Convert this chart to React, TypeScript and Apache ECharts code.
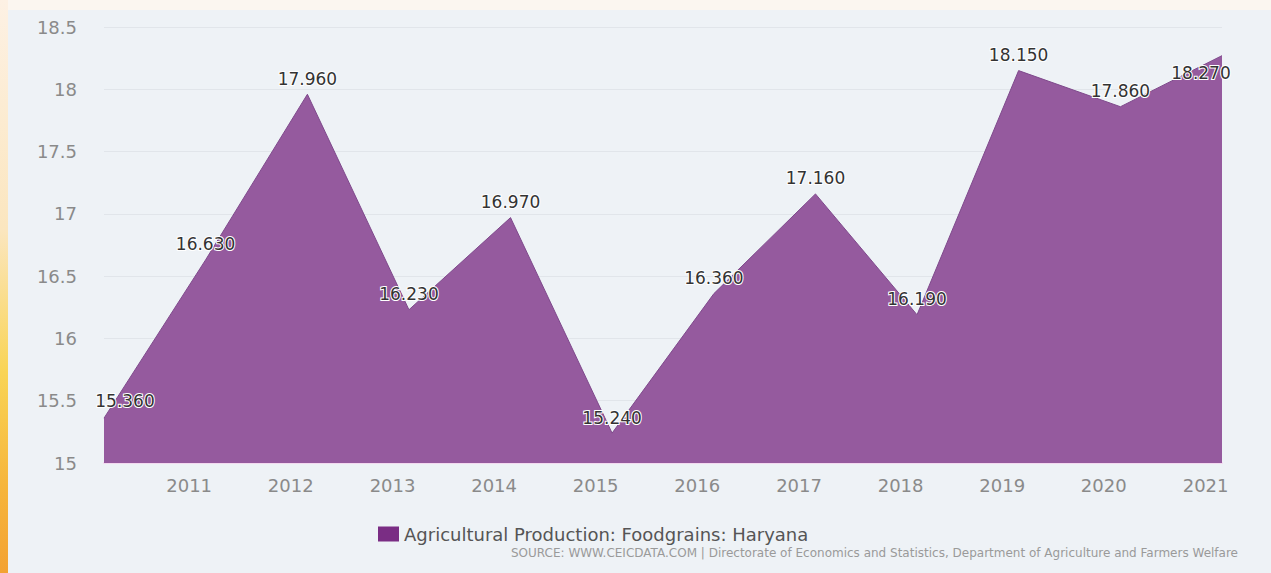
import React, { useEffect, useRef } from "react";
import * as echarts from "echarts";

const dates = [
  "2010-03-01", "2011-03-01", "2012-03-01", "2013-03-01", "2014-03-01", "2015-03-01",
  "2016-03-01", "2017-03-01", "2018-03-01", "2019-03-01", "2020-03-01", "2021-03-01",
];
const values = [15.36, 16.63, 17.96, 16.23, 16.97, 15.24, 16.36, 17.16, 16.19, 18.15, 17.86, 18.27];
const yearTicks = [2011, 2012, 2013, 2014, 2015, 2016, 2017, 2018, 2019, 2020, 2021];
const seriesName = "Agricultural Production: Foodgrains: Haryana";
const sourceText =
  "SOURCE: WWW.CEICDATA.COM | Directorate of Economics and Statistics, Department of Agriculture and Farmers Welfare";

const FONT = "DejaVu Sans";

const ts = (d: string) => Date.parse(d + "T00:00:00Z");

export default function App() {
  const ref = useRef<HTMLDivElement>(null);

  useEffect(() => {
    document.body.style.margin = "0";
    if (!ref.current) return;
    const chart = echarts.init(ref.current, undefined, { renderer: "svg" });
    const last = values.length - 1;
    const seriesData = dates.map((d, i) => {
      const item: any = { value: [ts(d), values[i]] };
      // keep edge labels inside the plot, as in the original
      if (i === 0) item.label = { offset: [21, -2] };
      if (i === last) item.label = { offset: [-21, 33] };
      return item;
    });
    chart.setOption({
      animation: false,
      backgroundColor: "#eef2f6",
      grid: { left: 96, right: 49, top: 17, bottom: 110, containLabel: false },
      xAxis: {
        type: "value",
        min: ts(dates[0]),
        max: ts(dates[last]),
        axisLine: { show: true, lineStyle: { color: "#f3d9f0", width: 2 } },
        axisTick: { show: false },
        splitLine: { show: false },
        axisLabel: {
          customValues: yearTicks.map((y) => ts(y + "-01-01")),
          formatter: (v: number) => String(new Date(v).getUTCFullYear()),
          color: "#8a8a8a",
          fontSize: 18,
          fontFamily: FONT,
          margin: 13,
        },
      },
      yAxis: {
        type: "value",
        min: 15,
        max: 18.5,
        interval: 0.5,
        axisLine: { show: false },
        axisTick: { show: false },
        splitLine: { show: true, lineStyle: { color: "#e1e5ea", width: 1 } },
        axisLabel: { color: "#8a8a8a", fontSize: 18, fontFamily: FONT, margin: 27 },
      },
      legend: {
        left: 365,
        top: 510,
        icon: "rect",
        itemWidth: 21,
        itemHeight: 15,
        itemGap: 6,
        textStyle: { color: "#555", fontSize: 18, fontFamily: FONT },
        data: [{ name: seriesName, itemStyle: { color: "#7a2d84", opacity: 1 } }],
      },
      graphic: [
        {
          type: "text",
          right: 33,
          top: 537,
          style: { text: sourceText, fill: "#9a9a9a", fontSize: 12, fontFamily: FONT },
        },
      ],
      series: [
        {
          name: seriesName,
          type: "line",
          data: seriesData,
          showSymbol: true,
          symbol: "circle",
          symbolSize: 0,
          color: "#955a9e",
          itemStyle: { color: "#955a9e", opacity: 0 },
          lineStyle: { color: "#7f4a8c", width: 1 },
          areaStyle: { color: "#955a9e", opacity: 1 },
          label: {
            show: true,
            position: "top",
            distance: 7,
            formatter: (p: any) => Number(p.value[1]).toFixed(3),
            color: "#333",
            fontSize: 17,
            fontFamily: FONT,
            opacity: 1,
            textBorderColor: "#ffffff",
            textBorderWidth: 2,
          },
        },
      ],
    });
    return () => chart.dispose();
  }, []);

  return (
    <div
      style={{
        position: "relative",
        width: 1271,
        height: 573,
        background: "#fbf6f0",
        overflow: "hidden",
      }}
    >
      <div
        style={{
          position: "absolute",
          left: 0,
          top: 0,
          width: 8,
          height: 573,
          background:
            "linear-gradient(180deg, #fdf1e4 0%, #fbe6bf 40%, #f9d455 65%, #f6b53b 85%, #f3a232 100%)",
        }}
      />
      <div
        ref={ref}
        style={{ position: "absolute", left: 8, top: 10, width: 1263, height: 563 }}
      />
    </div>
  );
}
